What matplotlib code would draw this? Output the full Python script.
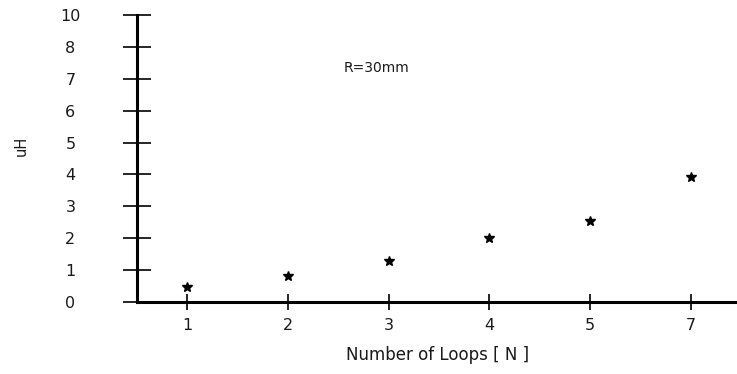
import matplotlib
matplotlib.use("Agg")
import matplotlib.pyplot as plt

# data
loop_labels = ['1', '2', '3', '4', '5', '7']
inductance = [0.46, 0.82, 1.28, 2.0, 2.55, 3.92]
y_tick_labels = ['0', '1', '2', '3', '4', '5', '6', '7', '8', '10']

plt.rcParams['font.family'] = ['DejaVu Sans']
txt = '#1a1a1a'

fig = plt.figure(figsize=(7.37, 3.74), dpi=100)
ax = fig.add_axes([0.186, 0.1925, 0.814, 0.7675])

xpos = list(range(1, len(loop_labels) + 1))
ax.plot(xpos, inductance, linestyle='none', marker='*', color='black', markersize=7)

ax.set_xlim(0.5, 6.46)
ax.set_ylim(0, 9)
ax.set_xticks(xpos)
ax.set_xticklabels(loop_labels)
ax.set_yticks(range(len(y_tick_labels)))
ax.set_yticklabels(y_tick_labels)

for s in ['top', 'right']:
    ax.spines[s].set_visible(False)
for s in ['left', 'bottom']:
    ax.spines[s].set_linewidth(2.2)

ax.tick_params(axis='y', direction='inout', length=20, width=1.2, pad=38, labelsize=11.5, labelcolor=txt)
ax.tick_params(axis='x', direction='inout', length=11, width=1.2, pad=6, labelsize=11.5, labelcolor=txt)
for lab in ax.get_yticklabels():
    lab.set_horizontalalignment('center')

fig.text(344 / 737, 1 - 68 / 374, 'R=30mm', fontsize=10, color=txt, va='center', ha='left')
fig.text(438 / 737, 1 - 355 / 374, 'Number of Loops [ N ]', fontsize=12, color=txt, ha='center', va='center')
fig.text(21 / 737, 1 - 146 / 374, 'uH', fontsize=10.5, color=txt, ha='center', va='center', rotation=90)

fig.savefig('out.png', dpi=100)
